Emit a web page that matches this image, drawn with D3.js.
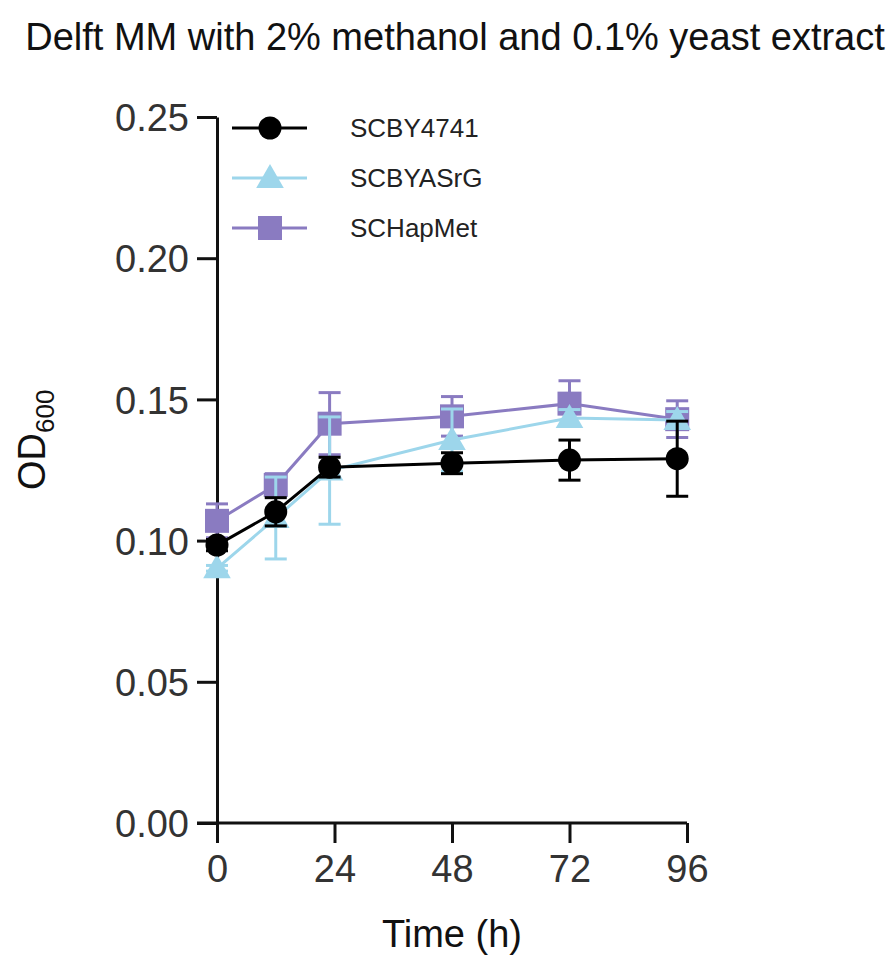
<!DOCTYPE html>
<html>
<head>
<meta charset="utf-8">
<script src="https://cdn.jsdelivr.net/npm/d3@7"></script>
<style>
  body { margin: 0; background: #fff; }
  svg { display: block; font-family: "Liberation Sans", Arial, Helvetica, sans-serif; }
</style>
</head>
<body>
<div id="chart"></div>
<script>
// time points (h) and OD600 means / SD
const times = [0, 12, 23, 48, 72, 94];
const wtMean = [0.0984, 0.1102, 0.1260, 0.1274, 0.1285, 0.1290];
const wtErr = [0.0020, 0.0050, 0.0035, 0.0037, 0.0071, 0.0133];
const asrgMean = [0.0902, 0.1080, 0.1248, 0.1356, 0.1434, 0.1427];
const asrgErr = [0.0010, 0.0145, 0.0190, 0.0110, 0.0030, 0.0030];
const hapMean = [0.1070, 0.1197, 0.1414, 0.1440, 0.1485, 0.1430];
const hapErr = [0.0060, 0.0040, 0.0110, 0.0070, 0.0081, 0.0065];
const xTicks = [0, 24, 48, 72, 96];
const yTicks = [0, 0.05, 0.10, 0.15, 0.20, 0.25];

const series = [
  { name: "SCBY4741", mean: wtMean, err: wtErr, color: "#000000", shape: "circle" },
  { name: "SCBYASrG", mean: asrgMean, err: asrgErr, color: "#9dd6eb", shape: "triangle" },
  { name: "SCHapMet", mean: hapMean, err: hapErr, color: "#8a7bc1", shape: "square" }
];

const width = 894, height = 960;
const svg = d3.select("#chart").append("svg")
  .attr("width", width)
  .attr("height", height);

const x = d3.scaleLinear().domain([0, 96]).range([217, 687]);
const y = d3.scaleLinear().domain([0, 0.25]).range([823, 117]);

// title
svg.append("text")
  .attr("x", 455)
  .attr("y", 50)
  .attr("text-anchor", "middle")
  .attr("font-size", 38)
  .attr("fill", "#111")
  .text("Delft MM with 2% methanol and 0.1% yeast extract");

// axes
const yAxis = svg.append("g")
  .attr("transform", `translate(${x(0)},0)`)
  .call(d3.axisLeft(y).tickValues(yTicks).tickFormat(d3.format(".2f")).tickSize(20).tickSizeOuter(0).tickPadding(8));

const xAxis = svg.append("g")
  .attr("transform", `translate(0,${y(0)})`)
  .call(d3.axisBottom(x).tickValues(xTicks).tickFormat(d3.format("d")).tickSize(20).tickSizeOuter(0).tickPadding(12));

// GraphPad style: x axis line starts at the end of the y ticks
xAxis.select(".domain").attr("d", `M${x(0) - 20},0H${x(96)}`);

[yAxis, xAxis].forEach(ax => {
  ax.selectAll(".domain, .tick line").attr("stroke", "#111").attr("stroke-width", 3);
  ax.selectAll(".tick text")
    .attr("font-size", 38)
    .attr("fill", "#333")
    .attr("font-family", "'Liberation Sans', Arial, sans-serif");
});
yAxis.selectAll(".tick text").attr("dy", "0.36em");

// axis titles
svg.append("text")
  .attr("x", 452)
  .attr("y", 947)
  .attr("text-anchor", "middle")
  .attr("font-size", 38)
  .attr("fill", "#111")
  .text("Time (h)");

const yl = svg.append("text")
  .attr("transform", "translate(45,490) rotate(-90)")
  .attr("font-size", 38)
  .attr("fill", "#111");
yl.append("tspan").text("OD");
yl.append("tspan").attr("font-size", 26).attr("dy", 9).text("600");

function drawMarker(g, shape, cx, cy, color) {
  if (shape === "circle") {
    g.append("circle").attr("cx", cx).attr("cy", cy).attr("r", 11.5).attr("fill", color);
  } else if (shape === "square") {
    g.append("rect").attr("x", cx - 12).attr("y", cy - 12).attr("width", 24).attr("height", 24).attr("fill", color);
  } else {
    g.append("path")
      .attr("transform", `translate(${cx},${cy + 2})`)
      .attr("d", d3.symbol(d3.symbolTriangle, 330)())
      .attr("fill", color);
  }
}

// data: purple drawn first, black on top
const line = d3.line().x((d, i) => x(times[i])).y(d => y(d));
series.slice().reverse().forEach(s => {
  const g = svg.append("g");
  s.mean.forEach((m, i) => {
    const cx = x(times[i]);
    const lo = y(m - s.err[i]), hi = y(m + s.err[i]);
    g.append("line").attr("x1", cx).attr("x2", cx).attr("y1", lo).attr("y2", hi)
      .attr("stroke", s.color).attr("stroke-width", 3);
    [lo, hi].forEach(v => {
      g.append("line").attr("x1", cx - 11).attr("x2", cx + 11).attr("y1", v).attr("y2", v)
        .attr("stroke", s.color).attr("stroke-width", 3);
    });
  });
  g.append("path")
    .attr("d", line(s.mean))
    .attr("fill", "none")
    .attr("stroke", s.color)
    .attr("stroke-width", 3);
  s.mean.forEach((m, i) => drawMarker(g, s.shape, x(times[i]), y(m), s.color));
});

// legend
const legend = svg.append("g");
series.forEach((s, i) => {
  const ly = 128 + i * 50;
  legend.append("line").attr("x1", 232).attr("x2", 307).attr("y1", ly).attr("y2", ly)
    .attr("stroke", s.color).attr("stroke-width", 3);
  drawMarker(legend, s.shape, 270, ly, s.color);
  legend.append("text")
    .attr("x", 350)
    .attr("y", ly + 9)
    .attr("font-size", 26)
    .attr("fill", "#222")
    .text(s.name);
});
</script>
</body>
</html>
